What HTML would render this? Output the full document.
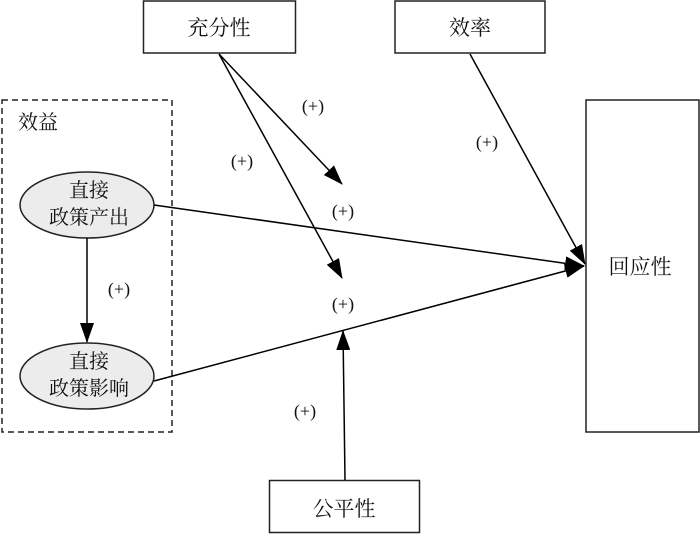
<!DOCTYPE html>
<html><head><meta charset="utf-8"><style>
body{margin:0;background:#fff}
svg text{font-family:"Liberation Serif","Noto Serif CJK SC",serif;fill:#111}
</style></head><body>
<svg width="700" height="534" viewBox="0 0 700 534" xmlns="http://www.w3.org/2000/svg">
<defs><marker id="a" markerWidth="10" markerHeight="10" refX="9" refY="5" orient="auto" markerUnits="userSpaceOnUse" viewBox="0 0 10 10"><path d="M0,0 L10,5 L0,10 Z" fill="#000"/></marker>
<marker id="b" markerWidth="20" markerHeight="14" refX="19" refY="7" orient="auto" markerUnits="userSpaceOnUse" viewBox="0 0 20 14"><path d="M0,0 L20,7 L0,14 Z" fill="#000"/></marker></defs>
<g fill="#fff" stroke="#222" stroke-width="1.5">
<rect x="143.5" y="1" width="152" height="52"/>
<rect x="395" y="1" width="150" height="52"/>
<rect x="586" y="100" width="113" height="332"/>
<rect x="269.5" y="480.5" width="150" height="52"/>
<rect x="2" y="100" width="170" height="332" stroke-dasharray="6,4" fill="none"/>
<ellipse cx="87" cy="205" rx="67" ry="33" fill="#ececec"/>
<ellipse cx="87" cy="376" rx="67" ry="33" fill="#ececec"/>
</g>
<g stroke="#000" stroke-width="1.5" fill="none">
<line x1="219" y1="54" x2="342" y2="184" marker-end="url(#b)"/>
<line x1="219" y1="54" x2="342" y2="278" marker-end="url(#b)"/>
<line x1="470" y1="54" x2="585" y2="264" marker-end="url(#b)"/>
<line x1="154" y1="205" x2="584" y2="266" marker-end="url(#b)"/>
<line x1="154" y1="381" x2="584" y2="266" marker-end="url(#b)"/>
<line x1="345" y1="480" x2="343" y2="331" marker-end="url(#b)"/>
<line x1="87" y1="238" x2="87" y2="342" marker-end="url(#b)"/>
</g>
<g font-size="21" text-anchor="middle">
<text x="219" y="35">充分性</text>
<text x="470" y="35">效率</text>
<text x="640" y="274">回应性</text>
<text x="344" y="516">公平性</text>
<text x="38" y="129" font-size="20">效益</text>
<text x="89" y="197" font-size="20">直接</text>
<text x="89" y="224" font-size="20">政策产出</text>
<text x="89" y="368" font-size="20">直接</text>
<text x="89" y="395" font-size="20">政策影响</text>
</g>
<g font-size="18" text-anchor="middle">
<text x="313" y="112">(+)</text>
<text x="242" y="167">(+)</text>
<text x="343" y="217">(+)</text>
<text x="343" y="310">(+)</text>
<text x="487" y="148">(+)</text>
<text x="119" y="295">(+)</text>
<text x="305" y="417">(+)</text>
</g>
</svg>
</body></html>
